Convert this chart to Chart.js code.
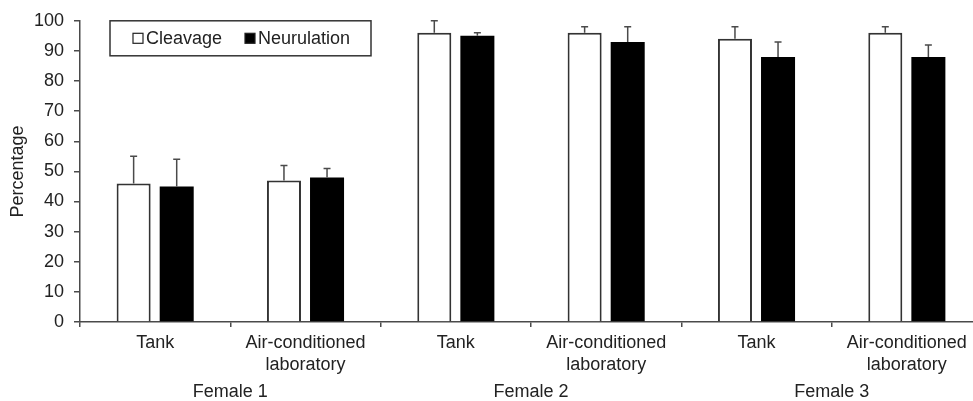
<!DOCTYPE html>
<html>
<head>
<meta charset="utf-8">
<script src="https://cdn.jsdelivr.net/npm/chart.js@4"></script>
<style>
  html, body { margin: 0; padding: 0; background: #fff; overflow: hidden; }
  #wrap { width: 973px; height: 401px; overflow: hidden; }
</style>
</head>
<body>
<div id="wrap"><canvas id="chart" width="990" height="401"></canvas></div>
<script>
const categories = ["Tank", ["Air-conditioned", "laboratory"], "Tank", ["Air-conditioned", "laboratory"], "Tank", ["Air-conditioned", "laboratory"]];
const groups = ["Female 1", "Female 2", "Female 3"];
const cleavage = [46, 47, 96, 96, 94, 96];
const cleavageErr = [9, 5, 4, 2, 4, 2];
const neurulation = [45, 48, 95, 93, 88, 88];
const neurulationErr = [9, 3, 1, 5, 5, 4];
const yTicks = [0, 10, 20, 30, 40, 50, 60, 70, 80, 90, 100];

const FONT = "'Liberation Sans', Arial, sans-serif";
const axisColor = "#4a4a4a";
const textColor = "#222";

// upper error bars, drawn from each bar's own element
const errorBars = {
    id: 'errorBars',
    afterDatasetsDraw(chart) {
        const ctx = chart.ctx;
        const y = chart.scales.y;
        ctx.save();
        ctx.strokeStyle = "#4a4a4a";
        ctx.lineWidth = 1.5;
        chart.data.datasets.forEach((ds, i) => {
            const meta = chart.getDatasetMeta(i);
            meta.data.forEach((bar, j) => {
                const top = y.getPixelForValue(ds.data[j] + ds.err[j]);
                ctx.beginPath();
                ctx.moveTo(bar.x, bar.y);
                ctx.lineTo(bar.x, top);
                ctx.moveTo(bar.x - 3.5, top);
                ctx.lineTo(bar.x + 3.5, top);
                ctx.stroke();
            });
        });
        ctx.restore();
    }
};

// boxed legend inside the plot area
const boxLegend = {
    id: 'boxLegend',
    afterDraw(chart) {
        const ctx = chart.ctx;
        const area = chart.chartArea;
        const x0 = area.left + 30, y0 = area.top, w = 261, h = 35;
        ctx.save();
        ctx.strokeStyle = "#333";
        ctx.lineWidth = 1.5;
        ctx.strokeRect(x0, y0, w, h);
        ctx.font = "18px " + FONT;
        ctx.fillStyle = textColor;
        ctx.textBaseline = "middle";
        let x = x0 + 23;
        const cy = y0 + h / 2;
        chart.data.datasets.forEach((ds) => {
            ctx.fillStyle = ds.backgroundColor;
            ctx.fillRect(x, cy - 5, 10, 10);
            ctx.strokeStyle = "#222";
            ctx.lineWidth = 1.2;
            ctx.strokeRect(x, cy - 5, 10, 10);
            ctx.fillStyle = textColor;
            ctx.fillText(ds.label, x + 13, cy + 1);
            x += 112;
        });
        ctx.restore();
    }
};

const ctx = document.getElementById("chart").getContext('2d');
new Chart(ctx, {
    type: 'bar',
    data: {
        labels: categories,
        datasets: [
            {
                label: 'Cleavage',
                data: cleavage,
                err: cleavageErr,
                backgroundColor: '#ffffff',
                borderColor: '#333333',
                borderWidth: 2,
                borderSkipped: 'bottom',
                categoryPercentage: 0.573,
                barPercentage: 0.79,
            },
            {
                label: 'Neurulation',
                data: neurulation,
                err: neurulationErr,
                backgroundColor: '#000000',
                borderWidth: 0,
                categoryPercentage: 0.573,
                barPercentage: 0.79,
            }
        ]
    },
    options: {
        responsive: false,
        animation: false,
        layout: { padding: { top: 16, right: 8, left: 0, bottom: 0 } },
        plugins: {
            legend: { display: false },
            tooltip: { enabled: false },
        },
        scales: {
            x: {
                type: 'category',
                position: 'bottom',
                offset: true,
                weight: 1,
                border: { display: true, color: axisColor, width: 1.5 },
                grid: {
                    offset: true,
                    drawOnChartArea: false,
                    color: axisColor,
                    lineWidth: 1.5,
                    tickLength: 5,
                },
                ticks: {
                    color: textColor,
                    font: { family: FONT, size: 18, lineHeight: 1.22 },
                    padding: 5,
                    maxRotation: 0,
                    autoSkip: false,
                },
                afterFit: (scale) => { scale.height = 58; },
            },
            groups: {
                type: 'category',
                position: 'bottom',
                labels: groups,
                offset: true,
                weight: 2,
                border: { display: false },
                grid: { display: false, drawTicks: false },
                ticks: {
                    color: textColor,
                    font: { family: FONT, size: 18 },
                    padding: 1,
                    maxRotation: 0,
                },
                afterFit: (scale) => { scale.height = 21; },
            },
            y: {
                min: 0,
                max: 100,
                afterBuildTicks: (scale) => { scale.ticks = yTicks.map(v => ({ value: v })); },
                border: { display: true, color: axisColor, width: 1.5 },
                grid: {
                    drawOnChartArea: false,
                    color: axisColor,
                    lineWidth: 1.5,
                    tickLength: 6,
                },
                ticks: {
                    color: textColor,
                    font: { family: FONT, size: 18 },
                    padding: 10,
                },
                title: {
                    display: true,
                    text: 'Percentage',
                    color: textColor,
                    font: { family: FONT, size: 18 },
                    padding: { top: 7, bottom: 0 },
                },
                afterFit: (scale) => { scale.width = 80; },
            }
        }
    },
    plugins: [errorBars, boxLegend]
});
</script>
</body>
</html>
